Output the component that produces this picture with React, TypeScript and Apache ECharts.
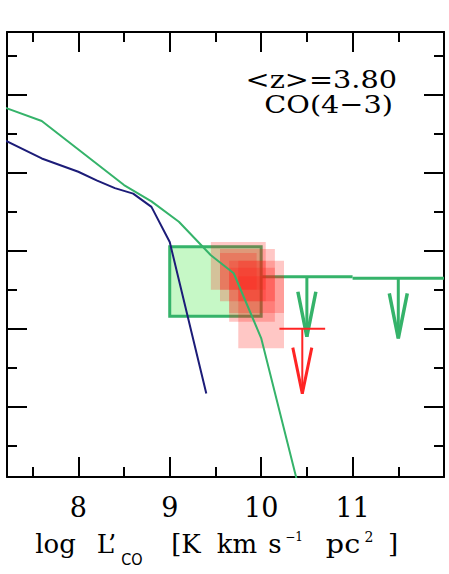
import React, { useEffect, useRef } from "react";
import * as echarts from "echarts";

// ---- data ----
const xMajor = [8, 9, 10, 11];
const xMinor = [7.5, 8.5, 9.5, 10.5, 11.5];
const yMajor = [-6, -5, -4, -3, -2];
const yMinor = [-6.5, -5.5, -4.5, -3.5, -2.5, -1.5];

// model curves [log L'CO, log Phi]
const blueModel = [
  [7.2, -2.59], [7.6, -2.82], [8.0, -2.99], [8.2, -3.1], [8.4, -3.2],
  [8.6, -3.27], [8.8, -3.44], [9.0, -3.89], [9.4, -5.83],
];
const greenModel = [
  [7.2, -2.17], [7.6, -2.34], [8.5, -3.16], [8.8, -3.37], [9.1, -3.63],
  [9.45, -4.06], [9.7, -4.29], [10.0, -5.12], [10.5, -7.45],
];

// boxes [xFrom, xTo, yFrom, yTo]
const greenBox = [[9.0, 10.0, -4.84, -3.95]];
const redBoxes = [
  [9.45, 10.05, -4.5, -3.89],
  [9.55, 10.15, -4.65, -3.98],
  [9.55, 9.95, -4.5, -4.03],
  [9.65, 10.25, -4.8, -4.13],
  [9.75, 10.25, -5.25, -4.33],
  [9.65, 10.15, -4.91, -4.22],
  [9.75, 10.05, -4.65, -4.13],
];

// upper limits [xFrom, xTo, y]
const greenLimits = [
  [10, 11, -4.335],
  [11, 12, -4.355],
];
const redLimits = [[10.2, 10.7, -5.0]];

const X_MIN = 7.22;
const X_MAX = 12;
const Y_MIN = -6.9;
const Y_MAX = -1.2;

const GREEN = "#35b36a";
const BLUE = "#1c1c78";
const RED = "#ff2424";

function boxRenderer(fill: string, stroke?: string, lw?: number) {
  return (params: any, api: any) => {
    const p0 = api.coord([api.value(0), api.value(3)]);
    const p1 = api.coord([api.value(1), api.value(2)]);
    return {
      type: "rect",
      shape: { x: p0[0], y: p0[1], width: p1[0] - p0[0], height: p1[1] - p0[1] },
      style: { fill, stroke: stroke || "none", lineWidth: lw || 0 },
    };
  };
}

function limitRenderer(color: string, lineW: number, headW: number, shaftLen: number, headLen: number, headHalf: number) {
  return (params: any, api: any) => {
    const a = api.coord([api.value(0), api.value(2)]);
    const b = api.coord([api.value(1), api.value(2)]);
    const cx = (a[0] + b[0]) / 2;
    const top = a[1];
    const tip = top + shaftLen;
    return {
      type: "group",
      children: [
        { type: "line", shape: { x1: a[0], y1: a[1], x2: b[0], y2: b[1] }, style: { stroke: color, lineWidth: lineW } },
        { type: "line", shape: { x1: cx, y1: top, x2: cx, y2: tip }, style: { stroke: color, lineWidth: lineW } },
        {
          type: "polyline",
          shape: { points: [[cx - headHalf, tip - headLen], [cx, tip], [cx + headHalf, tip - headLen]] },
          style: { stroke: color, fill: "none", lineWidth: headW },
        },
      ],
    };
  };
}

function xAx(position: string, ticks: number[], len: number, showLine: boolean, showLabel: boolean) {
  return {
    type: "value",
    position,
    min: X_MIN,
    max: X_MAX,
    axisLine: { show: showLine, onZero: false, lineStyle: { color: "#000", width: 2 } },
    axisTick: { show: true, inside: true, length: len, customValues: ticks, lineStyle: { color: "#000", width: 2 } },
    axisLabel: {
      show: showLabel,
      customValues: ticks,
      color: "#000",
      fontSize: 27,
      fontFamily: "DejaVu Serif",
      margin: 17,
    },
    splitLine: { show: false },
  };
}

function yAx(position: string, ticks: number[], len: number, showLine: boolean) {
  return {
    type: "value",
    position,
    min: Y_MIN,
    max: Y_MAX,
    axisLine: { show: showLine, onZero: false, lineStyle: { color: "#000", width: 2 } },
    axisTick: { show: true, inside: true, length: len, customValues: ticks, lineStyle: { color: "#000", width: 2 } },
    axisLabel: { show: false },
    splitLine: { show: false },
  };
}

function textEl(text: string, x: number, y: number, fontSize: number, family: string, align = "left", sx = 1) {
  return {
    type: "text",
    x,
    y,
    scaleX: sx,
    silent: true,
    style: {
      text,
      fontSize,
      fontFamily: family,
      fill: "#000",
      align,
      verticalAlign: "middle",
    },
  };
}

export default function App() {
  const ref = useRef<HTMLDivElement>(null);
  useEffect(() => {
    if (!ref.current) return;
    const chart = echarts.init(ref.current, undefined, { renderer: "svg" });
    const serif = "DejaVu Serif";
    const sans = "DejaVu Sans";
    const T = 26;
    const TY = 544;
    chart.setOption({
      animation: false,
      backgroundColor: "#fff",
      grid: { left: 7, right: 5, top: 32, bottom: 97, containLabel: false },
      xAxis: [
        xAx("bottom", xMajor, 20, true, true),
        xAx("bottom", xMinor, 10, false, false),
        xAx("top", xMajor, 20, true, false),
        xAx("top", xMinor, 10, false, false),
      ],
      yAxis: [
        yAx("left", yMajor, 20, true),
        yAx("left", yMinor, 10, false),
        yAx("right", yMajor, 20, true),
        yAx("right", yMinor, 10, false),
      ],
      series: [
        {
          type: "custom",
          name: "greenBox",
          data: greenBox,
          encode: { x: [0, 1], y: [2, 3] },
          renderItem: boxRenderer("#c6f8c6", GREEN, 3),
          clip: true,
        },
        {
          type: "line",
          name: "greenModel",
          data: greenModel,
          symbol: "none",
          lineStyle: { color: GREEN, width: 2 },
          clip: true,
        },
        {
          type: "line",
          name: "blueModel",
          data: blueModel,
          symbol: "none",
          lineStyle: { color: BLUE, width: 2 },
          clip: true,
        },
        {
          type: "custom",
          name: "greenLimits",
          data: greenLimits,
          encode: { x: [0, 1], y: 2 },
          renderItem: limitRenderer(GREEN, 3, 3.5, 60, 45, 9),
          clip: true,
        },
        {
          type: "custom",
          name: "redLimits",
          data: redLimits,
          encode: { x: [0, 1], y: 2 },
          renderItem: limitRenderer(RED, 2, 3, 65, 46, 9.5),
          clip: true,
        },
        {
          type: "custom",
          name: "redBoxes",
          data: redBoxes,
          encode: { x: [0, 1], y: [2, 3] },
          renderItem: boxRenderer("rgba(255,32,24,0.25)"),
          clip: true,
        },
      ],
      graphic: [
        textEl("<z>=3.80", 397, 79, 25, serif, "right", 1.15),
        textEl("CO(4−3)", 393, 104, 25, serif, "right", 1.15),
        textEl("log", 55.5, TY, T, serif, "center"),
        textEl("L’", 106.5, TY, T, serif, "center"),
        textEl("CO", 132, 560, 16, sans, "center", 0.9),
        textEl("[K", 186, TY, T, serif, "center"),
        textEl("km", 237, TY, T, serif, "center"),
        textEl("s", 275, TY, T, serif, "center"),
        textEl("−1", 294, 537, 12, serif, "center"),
        textEl("pc", 343, TY, T, serif, "center", 1.1),
        textEl("2", 369, 537, 14, serif, "center"),
        textEl("]", 393, TY, T, serif, "center"),
      ],
    });
    return () => chart.dispose();
  }, []);
  return (
    <div
      ref={ref}
      style={{ position: "fixed", left: 0, top: 0, width: 449, height: 574, background: "#fff" }}
    />
  );
}
